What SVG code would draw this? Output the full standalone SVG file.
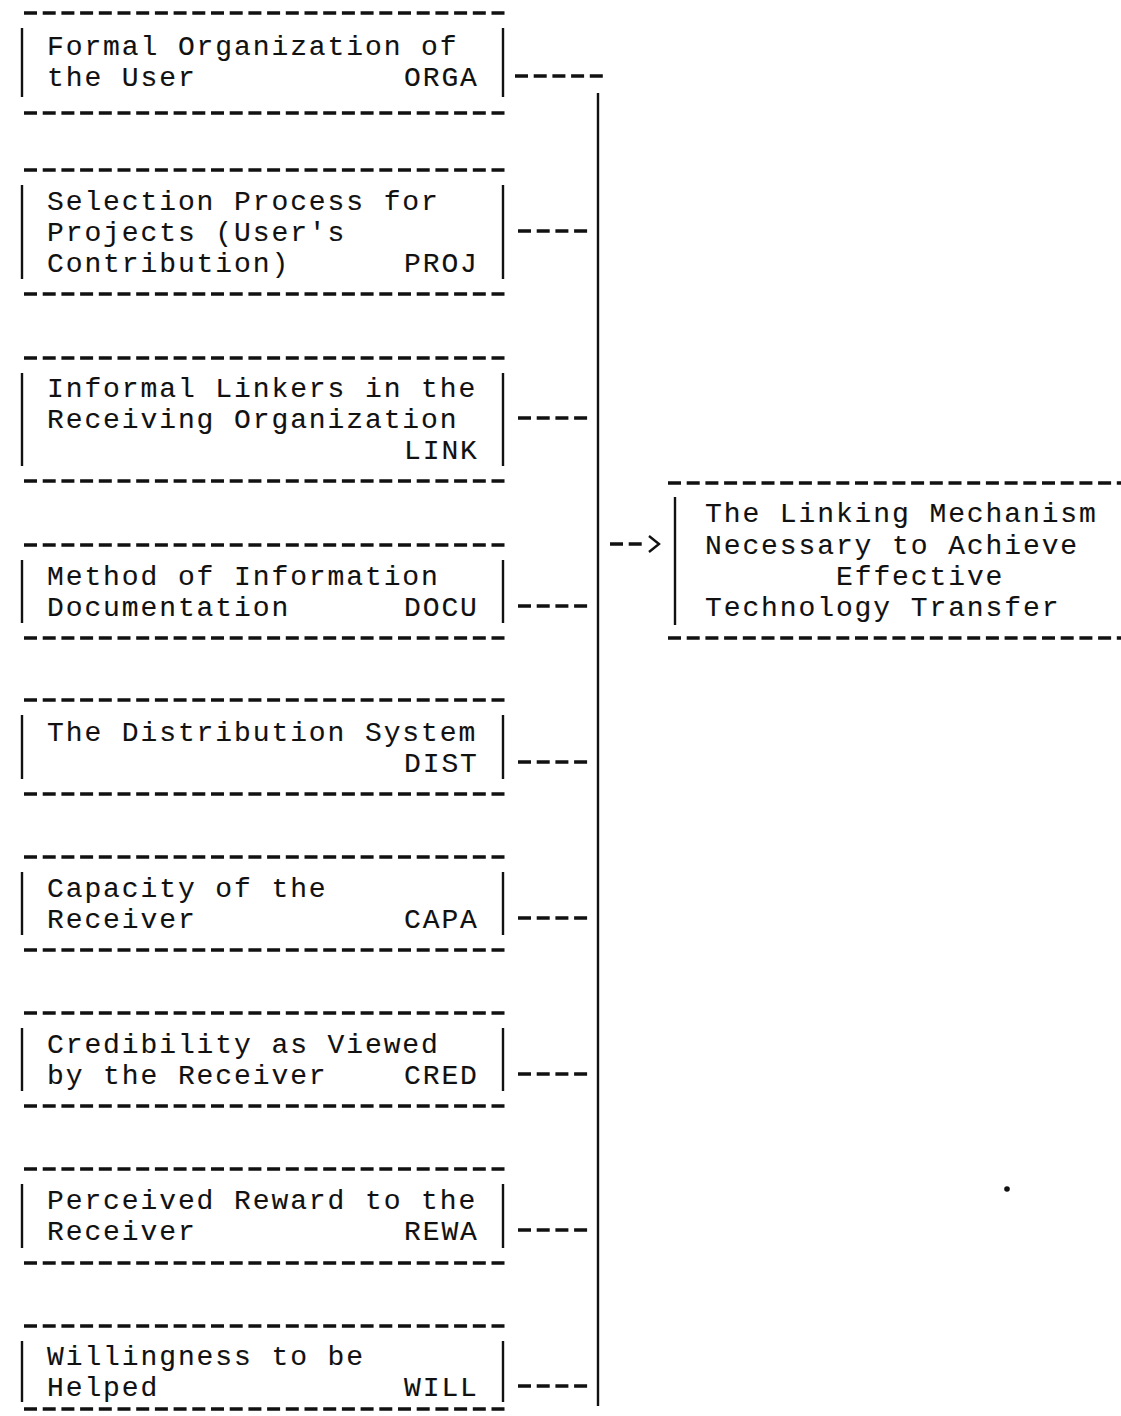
<svg xmlns="http://www.w3.org/2000/svg" width="1121" height="1416" viewBox="0 0 1121 1416">
  <style>
    .t { font-family: "Liberation Mono", "DejaVu Sans Mono", monospace; font-size: 28px; letter-spacing: 1.9px; fill: #111; stroke: #111; stroke-width: 0.12px; }
    .dash { stroke: #111; stroke-width: 3.3; stroke-dasharray: 13 5.7; fill: none; }
    .bar { stroke: #111; stroke-width: 2.4; fill: none; }
  </style>
  <rect width="1121" height="1416" fill="#fff"/>

  <!-- left column of factor boxes -->
  <g id="orga">
    <line class="dash" x1="24" y1="13" x2="510" y2="13"/>
    <line class="bar" x1="22" y1="28" x2="22" y2="97"/>
    <line class="bar" x1="503" y1="28" x2="503" y2="97"/>
    <text class="t" x="47" y="55">Formal Organization of</text>
    <text class="t" x="47" y="86">the User</text>
    <text class="t" x="404" y="86">ORGA</text>
    <line class="dash" x1="24" y1="113" x2="510" y2="113"/>
  </g>

  <g id="proj">
    <line class="dash" x1="24" y1="170" x2="510" y2="170"/>
    <line class="bar" x1="22" y1="185" x2="22" y2="279"/>
    <line class="bar" x1="503" y1="185" x2="503" y2="279"/>
    <text class="t" x="47" y="210">Selection Process for</text>
    <text class="t" x="47" y="241">Projects (User's</text>
    <text class="t" x="47" y="272">Contribution)</text>
    <text class="t" x="404" y="272">PROJ</text>
    <line class="dash" x1="24" y1="294" x2="510" y2="294"/>
  </g>

  <g id="link">
    <line class="dash" x1="24" y1="358" x2="510" y2="358"/>
    <line class="bar" x1="22" y1="373" x2="22" y2="466"/>
    <line class="bar" x1="503" y1="373" x2="503" y2="466"/>
    <text class="t" x="47" y="397">Informal Linkers in the</text>
    <text class="t" x="47" y="428">Receiving Organization</text>
    <text class="t" x="404" y="459">LINK</text>
    <line class="dash" x1="24" y1="481" x2="510" y2="481"/>
  </g>

  <g id="docu">
    <line class="dash" x1="24" y1="545" x2="510" y2="545"/>
    <line class="bar" x1="22" y1="560" x2="22" y2="623"/>
    <line class="bar" x1="503" y1="560" x2="503" y2="623"/>
    <text class="t" x="47" y="585">Method of Information</text>
    <text class="t" x="47" y="616">Documentation</text>
    <text class="t" x="404" y="616">DOCU</text>
    <line class="dash" x1="24" y1="638" x2="510" y2="638"/>
  </g>

  <g id="dist">
    <line class="dash" x1="24" y1="700" x2="510" y2="700"/>
    <line class="bar" x1="22" y1="715" x2="22" y2="779"/>
    <line class="bar" x1="503" y1="715" x2="503" y2="779"/>
    <text class="t" x="47" y="741">The Distribution System</text>
    <text class="t" x="404" y="772">DIST</text>
    <line class="dash" x1="24" y1="794" x2="510" y2="794"/>
  </g>

  <g id="capa">
    <line class="dash" x1="24" y1="857" x2="510" y2="857"/>
    <line class="bar" x1="22" y1="872" x2="22" y2="935"/>
    <line class="bar" x1="503" y1="872" x2="503" y2="935"/>
    <text class="t" x="47" y="897">Capacity of the</text>
    <text class="t" x="47" y="928">Receiver</text>
    <text class="t" x="404" y="928">CAPA</text>
    <line class="dash" x1="24" y1="950" x2="510" y2="950"/>
  </g>

  <g id="cred">
    <line class="dash" x1="24" y1="1013" x2="510" y2="1013"/>
    <line class="bar" x1="22" y1="1028" x2="22" y2="1091"/>
    <line class="bar" x1="503" y1="1028" x2="503" y2="1091"/>
    <text class="t" x="47" y="1053">Credibility as Viewed</text>
    <text class="t" x="47" y="1084">by the Receiver</text>
    <text class="t" x="404" y="1084">CRED</text>
    <line class="dash" x1="24" y1="1106" x2="510" y2="1106"/>
  </g>

  <g id="rewa">
    <line class="dash" x1="24" y1="1169" x2="510" y2="1169"/>
    <line class="bar" x1="22" y1="1184" x2="22" y2="1248"/>
    <line class="bar" x1="503" y1="1184" x2="503" y2="1248"/>
    <text class="t" x="47" y="1209">Perceived Reward to the</text>
    <text class="t" x="47" y="1240">Receiver</text>
    <text class="t" x="404" y="1240">REWA</text>
    <line class="dash" x1="24" y1="1263" x2="510" y2="1263"/>
  </g>

  <g id="will">
    <line class="dash" x1="24" y1="1326" x2="510" y2="1326"/>
    <line class="bar" x1="22" y1="1341" x2="22" y2="1402"/>
    <line class="bar" x1="503" y1="1341" x2="503" y2="1402"/>
    <text class="t" x="47" y="1365">Willingness to be</text>
    <text class="t" x="47" y="1396">Helped</text>
    <text class="t" x="404" y="1396">WILL</text>
    <line class="dash" x1="24" y1="1409" x2="510" y2="1409"/>
  </g>

  <!-- outcome box on the right -->
  <g id="link-mechanism">
    <line class="dash" x1="668" y1="483" x2="1121" y2="483"/>
    <line class="bar" x1="675" y1="497" x2="675" y2="625"/>
    <text class="t" x="705" y="522">The Linking Mechanism</text>
    <text class="t" x="705" y="554">Necessary to Achieve</text>
    <text class="t" x="836" y="585">Effective</text>
    <text class="t" x="705" y="616">Technology Transfer</text>
    <line class="dash" x1="668" y1="638" x2="1121" y2="638"/>
  </g>

  <!-- connectors: stubs from each box into the collecting trunk, then on to the outcome -->
  <g id="connectors">
    <line class="dash" x1="515" y1="76" x2="606" y2="76"/>
    <line class="dash" x1="518" y1="231" x2="590" y2="231"/>
    <line class="dash" x1="518" y1="418" x2="590" y2="418"/>
    <line class="dash" x1="518" y1="606" x2="590" y2="606"/>
    <line class="dash" x1="518" y1="762" x2="590" y2="762"/>
    <line class="dash" x1="518" y1="918" x2="590" y2="918"/>
    <line class="dash" x1="518" y1="1074" x2="590" y2="1074"/>
    <line class="dash" x1="518" y1="1230" x2="590" y2="1230"/>
    <line class="dash" x1="518" y1="1386" x2="590" y2="1386"/>
    <line class="bar" x1="598" y1="93" x2="598" y2="1406"/>
    <line class="dash" x1="610" y1="544" x2="645" y2="544"/>
    <polyline points="649,536 659,544 649,552" fill="none" stroke="#111" stroke-width="2.4"/>
  </g>

  <circle cx="1007" cy="1189" r="2.8" fill="#111"/>
</svg>
